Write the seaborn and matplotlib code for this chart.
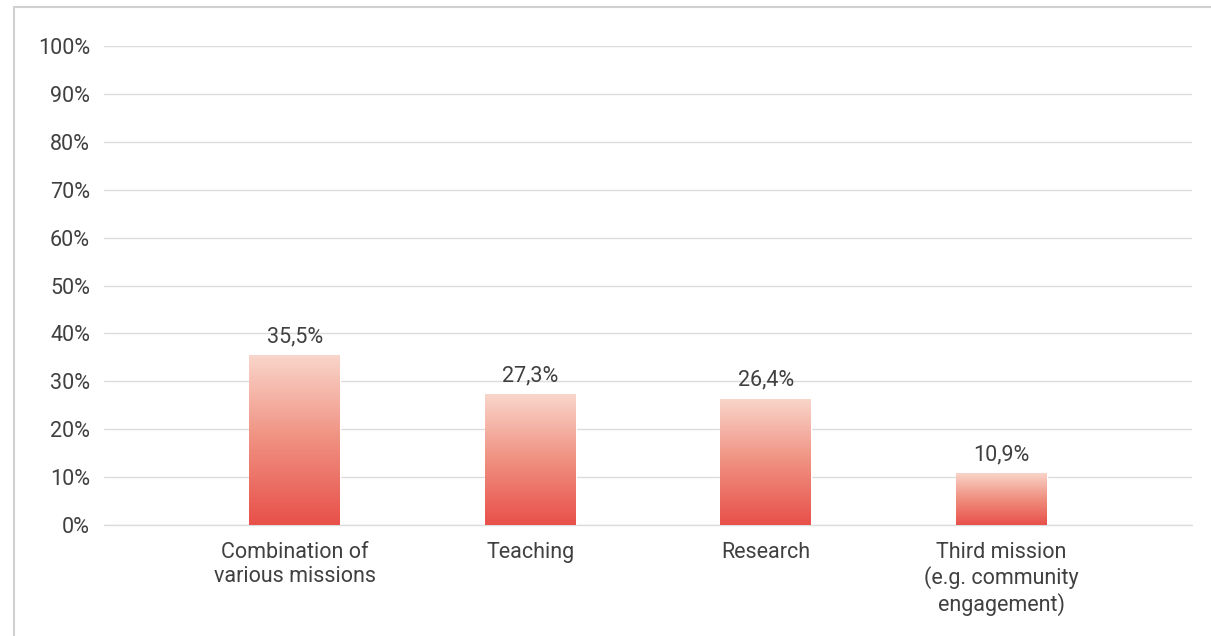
import matplotlib
matplotlib.use('Agg')
import matplotlib.pyplot as plt
import numpy as np
import pandas as pd
import seaborn as sns
from matplotlib.colors import LinearSegmentedColormap
from matplotlib.lines import Line2D

categories = ['Combination of\nvarious missions', 'Teaching', 'Research',
              'Third mission\n(e.g. community\nengagement)']
values = [35.5, 27.3, 26.4, 10.9]
value_labels = ['35,5%', '27,3%', '26,4%', '10,9%']
yticks = [0, 10, 20, 30, 40, 50, 60, 70, 80, 90, 100]

sns.set_style('white')
plt.rcParams['font.family'] = ['Roboto', 'DejaVu Sans']
text_col = '#404040'
fs = 15.5

df = pd.DataFrame({'mission': categories, 'share': values})

fig = plt.figure(figsize=(12.11, 6.36), dpi=100)
ax = fig.add_axes([104 / 1211, 1 - 525 / 636, 1088 / 1211, 479 / 636])

sns.barplot(data=df, x='mission', y='share', color='#e8504a', width=0.386, ax=ax, zorder=3)

# vertical gradient inside each bar
cmap = LinearSegmentedColormap.from_list('grad', ['#e8504a', '#f09080', '#f9d6cb'])
grad = np.linspace(0, 1, 256).reshape(-1, 1)
for patch in ax.patches:
    x0, y0 = patch.get_x(), patch.get_y()
    w, h = patch.get_width(), patch.get_height()
    im = ax.imshow(grad, cmap=cmap, origin='lower', aspect='auto',
                   extent=[x0, x0 + w, y0, y0 + h], zorder=4)
    im.set_clip_path(patch)
    patch.set_facecolor('none')

for i, (v, lab) in enumerate(zip(values, value_labels)):
    ax.text(i, v + 1.6, lab, ha='center', va='bottom', fontsize=fs, color=text_col)

ax.set_xlim(-0.81, 3.81)
ax.set_ylim(0, 100)
ax.set_yticks(yticks)
ax.set_yticklabels([f'{t}%' for t in yticks], fontsize=fs, color=text_col)
ax.tick_params(axis='y', length=0, pad=10)
ax.tick_params(axis='x', length=0, pad=12, labelsize=fs, labelcolor=text_col)
for t in ax.get_xticklabels():
    t.set_linespacing(1.2)
ax.set_xlabel('')
ax.set_ylabel('')
ax.yaxis.grid(True, color='#dcdcdc', linewidth=1.0, zorder=0)
ax.axhline(0, color='#dcdcdc', linewidth=1.0, zorder=1, clip_on=False)
ax.set_axisbelow(True)
for s in ax.spines.values():
    s.set_visible(False)

# outer frame (top and left edges)
fig.add_artist(Line2D([14 / 1211, 1], [1 - 7 / 636, 1 - 7 / 636], color='#d0d0d0', lw=1.5))
fig.add_artist(Line2D([14 / 1211, 14 / 1211], [0, 1 - 7 / 636], color='#d0d0d0', lw=1.5))

fig.savefig('out.png', dpi=100)
